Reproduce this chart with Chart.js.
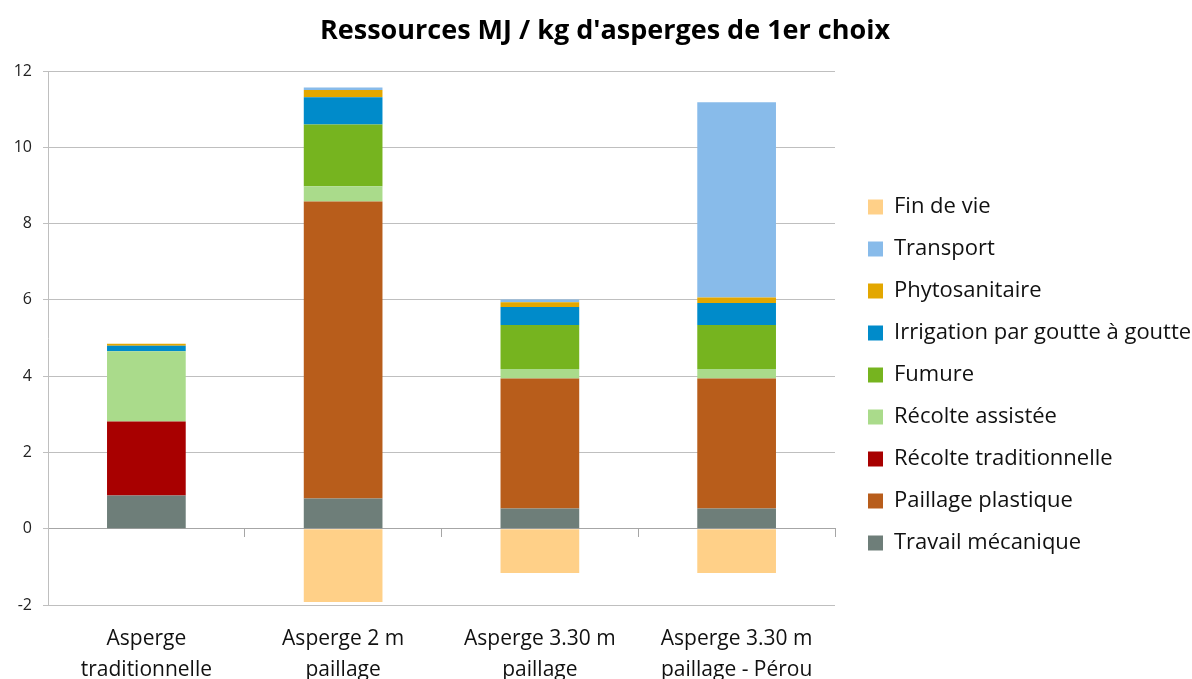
<!DOCTYPE html>
<html>
<head>
<meta charset="utf-8">
<script src="https://cdn.jsdelivr.net/npm/chart.js@4"></script>
<style>
  html, body { margin: 0; padding: 0; background: #fff; overflow: hidden; }
  #wrap { width: 1192px; height: 679px; position: relative; }
</style>
</head>
<body>
<div id="wrap"><canvas id="chart"></canvas></div>
<script>
  // categories (multi-line labels)
  const categories = [
    ['Asperge', 'traditionnelle'],
    ['Asperge 2 m', 'paillage'],
    ['Asperge 3.30 m', 'paillage'],
    ['Asperge 3.30 m', 'paillage - Pérou']
  ];

  // series, bottom to top
  const travailMecanique = [0.87, 0.79, 0.53, 0.53];
  const paillagePlastique = [0, 7.79, 3.41, 3.41];
  const recolteTraditionnelle = [1.94, 0, 0, 0];
  const recolteAssistee = [1.84, 0.40, 0.25, 0.25];
  const fumure = [0, 1.62, 1.15, 1.15];
  const irrigation = [0.15, 0.71, 0.47, 0.58];
  const phytosanitaire = [0.05, 0.19, 0.13, 0.14];
  const transport = [0, 0.07, 0.07, 5.12];
  const finDeVie = [0, -1.92, -1.16, -1.16];

  const yTicks = [-2, 0, 2, 4, 6, 8, 10, 12];

  const FONT = '"Open Sans", "DejaVu Sans", sans-serif';

  function serie(label, data, color) {
    return {
      label: label,
      data: data,
      backgroundColor: color,
      borderWidth: 0,
      xAxisID: 'x',
      barPercentage: 0.4,
      categoryPercentage: 1
    };
  }

  // legend a fixed width on the right, like the excel one
  const placeBoxes = {
    id: 'placeBoxes',
    afterInit: function(chart) {
      const legend = chart.legend;
      const fit = legend.fit.bind(legend);
      legend.fit = function() {
        fit();
        this.width = 357;
      };
    },
    afterLayout: function(chart) {
      const legend = chart.legend;
      legend.left += 13;
      legend.right += 13;
      legend.top = 176;
      const t = chart.titleBlock;
      t.left += 9;
      t.right += 9;
    }
  };

  new Chart(document.getElementById('chart'), {
    type: 'bar',
    data: {
      labels: categories,
      datasets: [
        serie('Travail mécanique', travailMecanique, '#6e7e79'),
        serie('Paillage plastique', paillagePlastique, '#b85d1b'),
        serie('Récolte traditionnelle', recolteTraditionnelle, '#a80000'),
        serie('Récolte assistée', recolteAssistee, '#aadb8b'),
        serie('Fumure', fumure, '#76b41f'),
        serie('Irrigation par goutte à goutte', irrigation, '#008bca'),
        serie('Phytosanitaire', phytosanitaire, '#e3a700'),
        serie('Transport', transport, '#88bbea'),
        serie('Fin de vie', finDeVie, '#ffd088')
      ]
    },
    options: {
      responsive: true,
      maintainAspectRatio: false,
      animation: false,
      layout: { padding: 0 },
      plugins: {
        tooltip: { enabled: false },
        title: {
          display: true,
          text: "Ressources MJ / kg d'asperges de 1er choix",
          color: '#000',
          font: { family: FONT, size: 27, weight: 'bold' },
          padding: { top: 15, bottom: 23.6 }
        },
        legend: {
          position: 'right',
          align: 'start',
          reverse: true,
          labels: {
            color: '#111',
            font: { family: FONT, size: 22 },
            boxWidth: 15,
            boxHeight: 15,
            padding: 20
          }
        }
      },
      scales: {
        x: {
          stacked: true,
          grid: { display: false },
          border: { display: false },
          ticks: {
            color: '#111',
            font: { family: FONT, size: 21, lineHeight: 1.48 },
            padding: 10,
            maxRotation: 0,
            autoSkip: false
          },
          afterFit: function(scale) { scale.height = 74; }
        },
        xZero: {
          type: 'category',
          labels: categories,
          position: { y: 0 },
          grid: {
            offset: true,
            drawOnChartArea: false,
            tickLength: 8,
            color: '#a6a6a6'
          },
          border: { display: true, color: '#a6a6a6' },
          ticks: { display: false }
        },
        y: {
          stacked: true,
          min: -2,
          max: 12,
          afterBuildTicks: function(scale) {
            scale.ticks = yTicks.map(v => ({ value: v }));
          },
          grid: { color: '#bfbfbf', tickLength: 5 },
          border: { display: true, color: '#bfbfbf' },
          ticks: {
            color: '#222',
            font: { family: FONT, size: 16 },
            padding: 11
          },
          afterFit: function(scale) { scale.width = 48; }
        }
      }
    },
    plugins: [placeBoxes]
  });
</script>
</body>
</html>
